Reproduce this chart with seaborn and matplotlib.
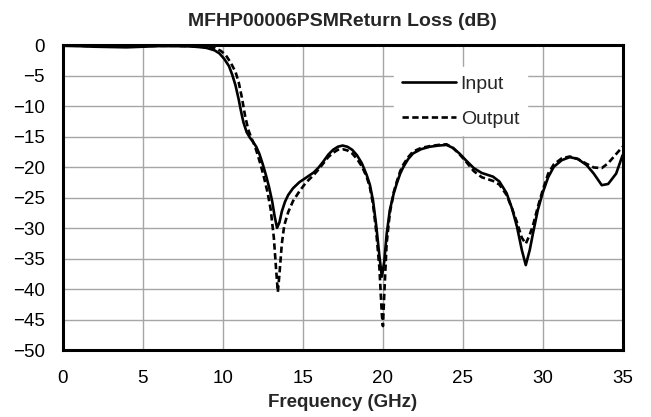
import matplotlib

matplotlib.use("Agg")
import matplotlib.pyplot as plt
import pandas as pd
import seaborn as sns

# Input return loss (solid), GHz / dB
input_freq = [0, 1, 2, 3, 4, 5, 6, 7, 8, 8.5, 9.0, 9.5, 9.8, 10.1, 10.4, 10.6,
              10.8, 11.0, 11.15, 11.3, 11.5, 11.7, 11.9, 12.1, 12.3, 12.5, 12.7,
              12.9, 13.1, 13.25, 13.4, 13.55, 13.7, 13.9, 14.1, 14.4, 14.8, 15.2,
              15.7, 16.0, 16.3, 16.6, 16.9, 17.2, 17.5, 17.8, 18.1, 18.4, 18.7,
              19.0, 19.2, 19.4, 19.6, 19.8, 19.95, 20.1, 20.25, 20.45, 20.7, 20.9,
              21.1, 21.3, 21.6, 21.9, 22.4, 22.95, 23.5, 24.0, 24.4, 24.8, 25.2,
              25.7, 26.2, 26.9, 27.3, 27.75, 28.1, 28.4, 28.7, 28.95, 29.2, 29.4,
              29.7, 30.0, 30.35, 30.7, 31.2, 31.7, 32.2, 32.75, 33.2, 33.7, 34.1,
              34.6, 35.0]
input_db = [-0.05, -0.1, -0.2, -0.25, -0.3, -0.2, -0.1, -0.1, -0.15, -0.25, -0.4,
            -0.8, -1.3, -2.2, -3.4, -4.8, -6.5, -8.8, -10.8, -12.6, -14.2, -15.1,
            -15.8, -16.6, -17.8, -19.4, -21.2, -23.2, -25.6, -28.0, -29.9, -29.0,
            -27.2, -25.6, -24.5, -23.4, -22.4, -21.7, -20.8, -20.0, -19.0, -17.9,
            -17.1, -16.6, -16.4, -16.6, -17.1, -18.0, -19.3, -21.2, -22.8, -25.4,
            -29.5, -34.5, -37.9, -35.5, -31.0, -27.0, -24.2, -22.5, -21.0, -19.9,
            -18.6, -17.7, -17.0, -16.6, -16.4, -16.3, -16.8, -17.7, -18.8, -20.1,
            -20.9, -21.5, -22.3, -24.2, -26.8, -29.7, -33.5, -36.0, -33.5, -30.8,
            -27.0, -24.2, -21.6, -19.9, -18.8, -18.3, -18.6, -19.6, -21.0, -22.9,
            -22.7, -21.0, -18.0]

# Output return loss (dashed)
output_freq = [0, 1, 2, 3, 4, 5, 6, 7, 8, 8.5, 9.0, 9.5, 9.9, 10.2, 10.5, 10.8,
               11.0, 11.2, 11.4, 11.6, 11.8, 12.0, 12.2, 12.4, 12.6, 12.8, 13.0,
               13.2, 13.35, 13.45, 13.55, 13.7, 13.85, 14.1, 14.4, 14.8, 15.2,
               15.7, 16.0, 16.3, 16.6, 16.9, 17.2, 17.5, 17.8, 18.1, 18.4, 18.7,
               19.0, 19.2, 19.4, 19.6, 19.8, 19.95, 20.02, 20.1, 20.25, 20.45,
               20.7, 20.9, 21.1, 21.3, 21.6, 21.9, 22.4, 22.95, 23.5, 24.0, 24.4,
               24.8, 25.2, 25.7, 26.2, 26.9, 27.3, 27.75, 28.1, 28.4, 28.7, 28.95,
               29.2, 29.4, 29.7, 30.0, 30.35, 30.7, 31.2, 31.7, 32.2, 32.75, 33.2,
               33.7, 34.1, 34.6, 35.0]
output_db = [0.0, -0.05, -0.1, -0.15, -0.15, -0.1, -0.05, -0.05, -0.1, -0.15, -0.2,
             -0.4, -0.9, -1.6, -2.8, -4.3, -6.0, -8.5, -11.5, -13.8, -15.2, -16.4,
             -18.0, -19.8, -21.8, -24.0, -26.8, -31.5, -37.0, -40.4, -37.5, -32.5,
             -29.5, -27.3, -25.5, -23.9, -22.5, -21.2, -20.3, -19.3, -18.3, -17.6,
             -17.1, -17.0, -17.2, -17.7, -18.6, -19.8, -21.5, -23.2, -26.0, -30.5,
             -36.5, -44.0, -46.0, -41.0, -32.5, -27.5, -24.0, -22.2, -20.6, -19.5,
             -18.3, -17.4, -16.8, -16.5, -16.3, -16.2, -16.8, -17.8, -19.0, -20.6,
             -21.6, -22.2, -22.8, -24.5, -26.8, -29.0, -31.5, -32.5, -31.0, -29.5,
             -26.5, -23.8, -21.0, -19.5, -18.5, -18.2, -18.6, -19.4, -20.0, -20.1,
             -19.3, -17.8, -16.6]

x_ticks = [0, 5, 10, 15, 20, 25, 30, 35]
y_ticks = [0, -5, -10, -15, -20, -25, -30, -35, -40, -45, -50]

sns.set_theme(style="whitegrid")
plt.rcParams["font.family"] = ["Liberation Sans", "DejaVu Sans"]

inp = pd.DataFrame({"freq": input_freq, "db": input_db})
out = pd.DataFrame({"freq": output_freq, "db": output_db})

fig = plt.figure(figsize=(6.51, 4.17), dpi=100)
ax = fig.add_axes([0.0963, 0.1595, 0.86, 0.7314])

sns.lineplot(data=inp, x="freq", y="db", sort=False, estimator=None,
             color="black", lw=1.9, label="Input", ax=ax)
sns.lineplot(data=out, x="freq", y="db", sort=False, estimator=None,
             color="black", lw=1.9, dashes=False, label="Output", ax=ax)
ax.lines[1].set_dashes([2.4, 1.3])

ax.set_xlim(0, 35)
ax.set_ylim(-50, 0)
ax.set_xticks(x_ticks)
ax.set_yticks(y_ticks)
ax.tick_params(axis="both", length=0, labelsize=13.5, colors="black")
ax.tick_params(axis="x", pad=14)
ax.tick_params(axis="y", pad=13)
ax.grid(True, color="#a6a6a6", lw=1.0)
for s in ax.spines.values():
    s.set_color("black")
    s.set_linewidth(2.2)

ax.set_title("MFHP00006PSMReturn Loss (dB)", fontsize=14, fontweight="bold",
             pad=14)
ax.set_xlabel("Frequency (GHz)", fontsize=13.5, fontweight="bold", labelpad=5)
ax.set_ylabel("")

leg = ax.legend(loc="upper left", bbox_to_anchor=(0.575, 0.961), fontsize=14,
                frameon=True, fancybox=False, handlelength=2.75, handletextpad=0.26,
                labelspacing=0.9, borderpad=0.4)
leg.get_frame().set_edgecolor("white")
leg.get_frame().set_facecolor("white")
leg.get_frame().set_alpha(1)

fig.savefig("out.png", dpi=100)
